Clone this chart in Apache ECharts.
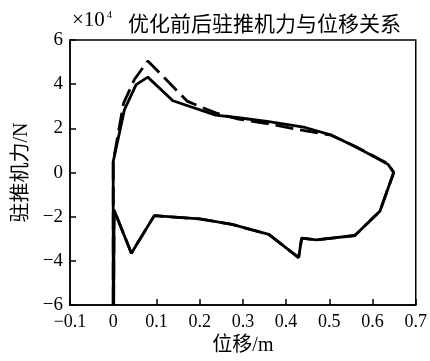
<!DOCTYPE html>
<html><head><meta charset="utf-8">
<script src="https://cdn.jsdelivr.net/npm/echarts@6/dist/echarts.min.js"></script>
<style>html,body{margin:0;padding:0;background:#fff}#c{width:430px;height:361px}</style>
</head><body><div id="c"></div>
<script>
// Units: displacement in m, force in ×10^4 N
const xTickLabels = ['\u22120.1','0','0.1','0.2','0.3','0.4','0.5','0.6','0.7'];
const yTickLabels = ['\u22126','\u22124','\u22122','0','2','4','6'];

// After optimisation (solid)
const solidX = [0, 0, 0.026, 0.053, 0.080, 0.138, 0.237, 0.29, 0.36, 0.444, 0.505, 0.562, 0.636, 0.649, 0.617, 0.559, 0.47, 0.436, 0.429, 0.36, 0.275, 0.2, 0.095, 0.042, 0.002, 0.001];
const solidY = [-6, 0.5, 2.85, 3.98, 4.32, 3.25, 2.6, 2.48, 2.3, 2.04, 1.69, 1.16, 0.37, 0, -1.75, -2.85, -3.05, -2.97, -3.85, -2.8, -2.35, -2.1, -1.95, -3.65, -1.7, -6];

// Before optimisation (dashed)
const dashedX = [0, 0, 0.024, 0.049, 0.08, 0.172, 0.237, 0.29, 0.36, 0.43, 0.505, 0.562, 0.636, 0.649, 0.617, 0.559, 0.47, 0.436, 0.429, 0.36, 0.275, 0.2, 0.095, 0.042, 0.002, 0.001];
const dashedY = [-6, 0.5, 3.14, 4.21, 5.05, 3.22, 2.7, 2.42, 2.2, 1.94, 1.69, 1.16, 0.4, 0, -1.75, -2.85, -3.05, -2.97, -3.85, -2.8, -2.35, -2.1, -1.95, -3.65, -1.7, -6];

const titleText = '优化前后驻推机力与位移关系';
const unitBase = '×10';
const unitExp = '4';
const xName = '位移/m';
const yName = '驻推机力/N';

const zip = (a, b) => a.map((v, i) => [v, b[i]]);
const numFont = "'Liberation Serif','Noto Sans CJK SC',serif";

const chart = echarts.init(document.getElementById('c'), null, {renderer: 'canvas'});
chart.setOption({
  animation: false,
  backgroundColor: '#fff',
  grid: {left: 70, right: 12, top: 40, bottom: 48, show: true, borderColor: '#000', borderWidth: 1.5, backgroundColor: 'transparent'},
  title: [
    {text: titleText, left: 123, top: 8, textStyle: {fontFamily: "'Noto Sans CJK SC',sans-serif", fontSize: 21, fontWeight: 'normal', color: '#000'}}
  ],
  graphic: [
    {type: 'text', left: 72, top: 10, style: {text: unitBase, fontSize: 21, fontFamily: 'Liberation Serif', fill: '#000'}},
    {type: 'text', left: 107, top: 10, style: {text: unitExp, fontSize: 10, fontFamily: 'Liberation Serif', fill: '#000'}}
  ],
  xAxis: {
    type: 'value', min: -0.1, max: 0.7, interval: 0.1,
    name: xName, nameLocation: 'middle', nameGap: 15,
    nameTextStyle: {fontFamily: numFont, fontSize: 20, color: '#000'},
    axisLine: {show: true, onZero: false, lineStyle: {color: '#000', width: 1.5}},
    axisTick: {show: true, inside: true, length: 6, lineStyle: {color: '#000', width: 1.5}},
    axisLabel: {margin: 8, fontFamily: numFont, fontSize: 18, color: '#000',
      formatter: v => xTickLabels[Math.round((v + 0.1) * 10)]},
    splitLine: {show: false}
  },
  yAxis: {
    type: 'value', min: -6, max: 6, interval: 2,
    name: yName, nameLocation: 'middle', nameGap: 37, nameRotate: 90,
    nameTextStyle: {fontFamily: numFont, fontSize: 20, color: '#000'},
    axisLine: {show: true, onZero: false, lineStyle: {color: '#000', width: 1.5}},
    axisTick: {show: true, inside: true, length: 6, lineStyle: {color: '#000', width: 1.5}},
    axisLabel: {margin: 7, fontFamily: numFont, fontSize: 19, color: '#000',
      formatter: v => yTickLabels[Math.round((v + 6) / 2)]},
    splitLine: {show: false}
  },
  series: [
    {name: '优化前', type: 'line', data: zip(dashedX, dashedY), showSymbol: false, symbol: 'none',
      lineStyle: {color: '#000', width: 2.8, type: [18, 7]}},
    {name: '优化后', type: 'line', data: zip(solidX, solidY), showSymbol: false, symbol: 'none',
      lineStyle: {color: '#000', width: 2.8, type: 'solid'}}
  ]
});
</script></body></html>
